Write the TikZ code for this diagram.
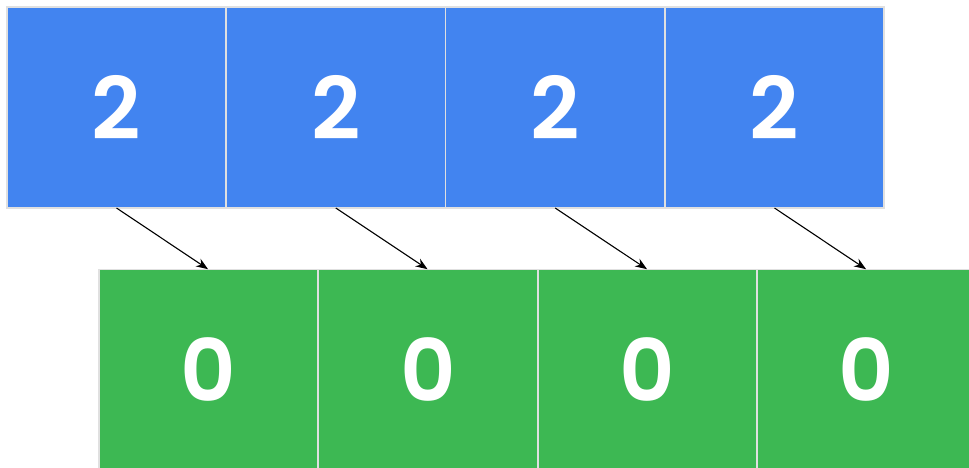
\documentclass[tikz,border=0pt]{standalone}
\usepackage{fontspec}
\setmainfont{Poppins}[BoldFont={Poppins SemiBold}]
\usetikzlibrary{arrows.meta}
\definecolor{gblue}{HTML}{4284F0}
\definecolor{ggreen}{HTML}{3DB853}
\begin{document}
\begin{tikzpicture}[x=1pt,y=-1pt,
  cell/.style={draw=white!88!black, line width=1.2pt, minimum width=219pt, minimum height=201pt, inner sep=0pt, outer sep=0pt, text=white, font=\fontsize{86}{86}\selectfont\bfseries},
  bluecell/.style={cell, fill=gblue},
  greencell/.style={cell, fill=ggreen},
  link/.style={-{Stealth[length=12pt,width=9pt]}, line width=1.1pt, black, shorten >=0.5pt}]
\useasboundingbox (0,0) rectangle (969,468);
\clip (0,0) rectangle (969,468);
\node[bluecell] (b1) at (116.5,107.5) {2};
\node[bluecell] (b2) at (335.8,107.5) {2};
\node[bluecell] (b3) at (555.2,107.5) {2};
\node[bluecell] (b4) at (774.5,107.5) {2};
\node[greencell] (g1) at (208.5,370) {0};
\node[greencell] (g2) at (428,370) {0};
\node[greencell] (g3) at (647.5,370) {0};
\node[greencell] (g4) at (866.5,370) {0};
\foreach \i in {1,2,3,4}{
  \draw[link] (b\i.south) -- (g\i.north);
}
\end{tikzpicture}
\end{document}
